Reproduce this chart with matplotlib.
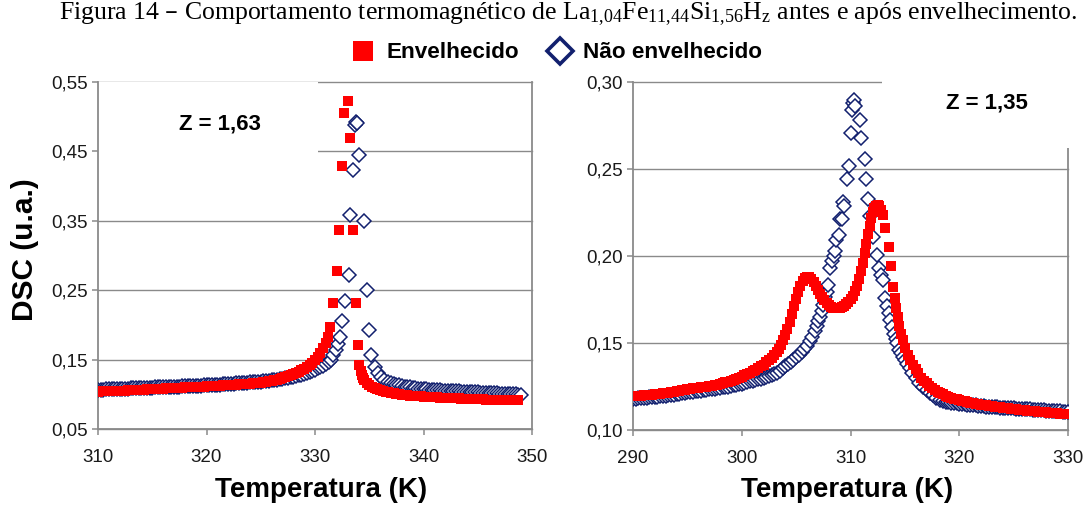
"""DSC curves of La-Fe-Si-H before and after ageing (two panels)."""

import matplotlib

matplotlib.use("Agg")
import matplotlib.pyplot as plt
from matplotlib.lines import Line2D
from matplotlib.patches import Rectangle

plt.rcParams["font.family"] = ["Liberation Sans", "DejaVu Sans"]

# ---- left panel, z = 1.63: (temperature K, DSC a.u.) -----------------------
left_aged = [
    (310.00, .1040), (310.25, .1041), (310.50, .1043), (310.75, .1044), (311.00, .1045),
    (311.25, .1046), (311.50, .1048), (311.75, .1049), (312.00, .1050), (312.25, .1052),
    (312.50, .1054), (312.75, .1056), (313.00, .1058), (313.25, .1060), (313.50, .1062),
    (313.75, .1064), (314.00, .1066), (314.25, .1068), (314.50, .1070), (314.75, .1072),
    (315.00, .1074), (315.25, .1076), (315.50, .1078), (315.75, .1080), (316.00, .1082),
    (316.25, .1084), (316.50, .1086), (316.75, .1088), (317.00, .1090), (317.25, .1092),
    (317.50, .1094), (317.75, .1096), (318.00, .1098), (318.25, .1100), (318.50, .1102),
    (318.75, .1104), (319.00, .1106), (319.25, .1108), (319.50, .1110), (319.75, .1112),
    (320.00, .1114), (320.25, .1116), (320.50, .1118), (320.75, .1120), (321.00, .1122),
    (321.25, .1125), (321.50, .1127), (321.75, .1130), (322.00, .1132), (322.25, .1135),
    (322.50, .1137), (322.75, .1140), (323.00, .1142), (323.25, .1145), (323.50, .1148),
    (323.75, .1151), (324.00, .1155), (324.25, .1158), (324.50, .1162), (324.75, .1166),
    (325.00, .1170), (325.25, .1175), (325.50, .1181), (325.75, .1187), (326.00, .1194),
    (326.25, .1202), (326.50, .1211), (326.75, .1221), (327.00, .1232), (327.25, .1244),
    (327.50, .1257), (327.75, .1271), (328.00, .1287), (328.25, .1304), (328.50, .1323),
    (328.75, .1344), (329.00, .1367), (329.25, .1392), (329.50, .1420), (329.75, .1450),
    (330.00, .1490), (330.25, .1535), (330.50, .1590), (330.75, .1660), (331.00, .1740),
    (331.20, .1830), (331.40, .1970), (331.70, .2320), (332.00, .2780), (332.20, .3370),
    (332.50, .4290), (332.70, .5050), (333.00, .5220), (333.20, .4700), (333.50, .3370),
    (333.80, .2310), (334.00, .1710), (334.10, .1420), (334.20, .1340), (334.30, .1280),
    (334.40, .1240), (334.50, .1200), (334.75, .1160), (335.00, .1130), (335.25, .1110),
    (335.50, .1090), (335.75, .1075), (336.00, .1062), (336.25, .1050), (336.50, .1040),
    (336.75, .1030), (337.00, .1020), (337.25, .1013), (337.50, .1005), (337.75, .0999),
    (338.00, .0994), (338.25, .0990), (338.50, .0986), (338.75, .0982), (339.00, .0979),
    (339.25, .0976), (339.50, .0973), (339.75, .0970), (340.00, .0967), (340.25, .0965),
    (340.50, .0962), (340.75, .0960), (341.00, .0957), (341.25, .0955), (341.50, .0953),
    (341.75, .0951), (342.00, .0949), (342.25, .0947), (342.50, .0945), (342.75, .0944),
    (343.00, .0942), (343.25, .0940), (343.50, .0939), (343.75, .0937), (344.00, .0936),
    (344.25, .0934), (344.50, .0933), (344.75, .0931), (345.00, .0930), (345.25, .0928),
    (345.50, .0927), (345.75, .0925), (346.00, .0924), (346.25, .0922), (346.50, .0921),
    (346.75, .0920), (347.00, .0919), (347.25, .0918), (347.50, .0917), (347.75, .0916),
    (348.00, .0915), (348.25, .0914), (348.50, .0913), (348.75, .0912),
]
left_fresh = [
    (310.00, .1065), (310.25, .1067), (310.50, .1068), (310.75, .1070), (311.00, .1071),
    (311.25, .1073), (311.50, .1075), (311.75, .1076), (312.00, .1078), (312.25, .1079),
    (312.50, .1081), (312.75, .1082), (313.00, .1084), (313.25, .1086), (313.50, .1087),
    (313.75, .1089), (314.00, .1090), (314.25, .1092), (314.50, .1093), (314.75, .1095),
    (315.00, .1097), (315.25, .1098), (315.50, .1100), (315.75, .1101), (316.00, .1103),
    (316.25, .1105), (316.50, .1106), (316.75, .1108), (317.00, .1109), (317.25, .1111),
    (317.50, .1112), (317.75, .1114), (318.00, .1116), (318.25, .1117), (318.50, .1119),
    (318.75, .1120), (319.00, .1122), (319.25, .1124), (319.50, .1125), (319.75, .1127),
    (320.00, .1128), (320.25, .1131), (320.50, .1133), (320.75, .1136), (321.00, .1138),
    (321.25, .1141), (321.50, .1143), (321.75, .1146), (322.00, .1148), (322.25, .1151),
    (322.50, .1154), (322.75, .1157), (323.00, .1160), (323.25, .1163), (323.50, .1166),
    (323.75, .1169), (324.00, .1172), (324.25, .1175), (324.50, .1178), (324.75, .1181),
    (325.00, .1184), (325.25, .1188), (325.50, .1192), (325.75, .1197), (326.00, .1202),
    (326.25, .1207), (326.50, .1213), (326.75, .1219), (327.00, .1225), (327.25, .1232),
    (327.50, .1239), (327.75, .1247), (328.00, .1255), (328.25, .1264), (328.50, .1274),
    (328.75, .1285), (329.00, .1297), (329.25, .1310), (329.50, .1324), (329.75, .1339),
    (330.00, .1355), (330.25, .1372), (330.50, .1390), (330.75, .1410), (331.00, .1435),
    (331.25, .1465), (331.50, .1500), (331.70, .1570), (331.90, .1640), (332.10, .1720),
    (332.30, .1820), (332.50, .2050), (332.80, .2350), (333.10, .2720), (333.20, .3590),
    (333.50, .4230), (333.70, .4880), (333.80, .4930), (333.90, .4910), (334.10, .4450),
    (334.50, .3490), (334.80, .2510), (335.00, .1930), (335.20, .1570), (335.50, .1400),
    (335.80, .1310), (336.10, .1250), (336.40, .1210), (336.70, .1180), (337.00, .1165),
    (337.25, .1152), (337.50, .1140), (337.75, .1130), (338.00, .1120), (338.25, .1112),
    (338.50, .1105), (338.75, .1099), (339.00, .1093), (339.25, .1088), (339.50, .1083),
    (339.75, .1079), (340.00, .1075), (340.25, .1071), (340.50, .1068), (340.75, .1065),
    (341.00, .1062), (341.25, .1059), (341.50, .1057), (341.75, .1054), (342.00, .1052),
    (342.25, .1049), (342.50, .1047), (342.75, .1045), (343.00, .1043), (343.25, .1041),
    (343.50, .1039), (343.75, .1037), (344.00, .1035), (344.25, .1033), (344.50, .1031),
    (344.75, .1029), (345.00, .1027), (345.25, .1025), (345.50, .1023), (345.75, .1021),
    (346.00, .1019), (346.25, .1017), (346.50, .1015), (346.75, .1013), (347.00, .1011),
    (347.25, .1009), (347.50, .1007), (347.75, .1005), (348.00, .1003), (348.25, .1001),
    (348.50, .0999), (348.75, .0997), (349.00, .0995),
]

# ---- right panel, z = 1.35 -------------------------------------------------
right_aged = [
    (290.00, .1195), (290.25, .1196), (290.50, .1197), (290.75, .1198), (291.00, .1199),
    (291.25, .1200), (291.50, .1202), (291.75, .1203), (292.00, .1205), (292.25, .1206),
    (292.50, .1208), (292.75, .1210), (293.00, .1212), (293.25, .1214), (293.50, .1216),
    (293.75, .1219), (294.00, .1222), (294.25, .1225), (294.50, .1228), (294.75, .1231),
    (295.00, .1234), (295.25, .1237), (295.50, .1240), (295.75, .1242), (296.00, .1244),
    (296.25, .1246), (296.50, .1248), (296.75, .1250), (297.00, .1253), (297.25, .1255),
    (297.50, .1258), (297.75, .1261), (298.00, .1265), (298.25, .1269), (298.50, .1273),
    (298.75, .1277), (299.00, .1282), (299.25, .1287), (299.50, .1293), (299.75, .1300),
    (300.00, .1307), (300.25, .1314), (300.50, .1321), (300.75, .1329), (301.00, .1337),
    (301.25, .1346), (301.50, .1355), (301.75, .1365), (302.00, .1376), (302.25, .1388),
    (302.50, .1401), (302.75, .1415), (303.00, .1430), (303.20, .1448), (303.40, .1468),
    (303.60, .1490), (303.80, .1515), (304.00, .1545), (304.20, .1580), (304.40, .1620),
    (304.60, .1665), (304.80, .1710), (305.00, .1755), (305.20, .1795), (305.40, .1830),
    (305.60, .1855), (305.80, .1872), (306.00, .1880), (306.20, .1878), (306.40, .1865),
    (306.60, .1848), (306.80, .1828), (307.00, .1805), (307.20, .1783), (307.40, .1763),
    (307.60, .1745), (307.80, .1730), (308.00, .1718), (308.20, .1709), (308.40, .1703),
    (308.60, .1700), (308.80, .1700), (309.00, .1700), (309.20, .1705), (309.40, .1713),
    (309.60, .1723), (309.80, .1736), (310.00, .1752), (310.20, .1772), (310.40, .1797),
    (310.60, .1828), (310.80, .1866), (311.00, .1912), (311.15, .1960), (311.30, .2015),
    (311.45, .2070), (311.60, .2125), (311.75, .2175), (311.90, .2220), (312.05, .2255),
    (312.20, .2278), (312.35, .2290), (312.50, .2292), (312.65, .2285), (312.80, .2265),
    (312.95, .2235), (313.20, .2160), (313.50, .2050), (313.70, .1940), (313.90, .1820),
    (314.05, .1760), (314.20, .1700), (314.35, .1650), (314.50, .1600), (314.65, .1550),
    (314.80, .1515), (315.00, .1470), (315.25, .1433), (315.50, .1400), (315.75, .1373),
    (316.00, .1350), (316.25, .1325), (316.50, .1300), (316.75, .1284), (317.00, .1270),
    (317.25, .1255), (317.50, .1240), (317.75, .1230), (318.00, .1220), (318.25, .1212),
    (318.50, .1205), (318.75, .1198), (319.00, .1192), (319.25, .1186), (319.50, .1181),
    (319.75, .1176), (320.00, .1172), (320.25, .1168), (320.50, .1164), (320.75, .1160),
    (321.00, .1157), (321.25, .1154), (321.50, .1151), (321.75, .1148), (322.00, .1146),
    (322.25, .1143), (322.50, .1141), (322.75, .1139), (323.00, .1137), (323.25, .1135),
    (323.50, .1133), (323.75, .1131), (324.00, .1129), (324.25, .1127), (324.50, .1125),
    (324.75, .1123), (325.00, .1121), (325.25, .1119), (325.50, .1117), (325.75, .1115),
    (326.00, .1113), (326.25, .1111), (326.50, .1110), (326.75, .1108), (327.00, .1107),
    (327.25, .1105), (327.50, .1104), (327.75, .1102), (328.00, .1101), (328.25, .1099),
    (328.50, .1098), (328.75, .1096), (329.00, .1095), (329.25, .1093), (329.50, .1092),
    (329.75, .1091), (330.00, .1090),
]
right_fresh = [
    (290.00, .1180), (290.25, .1181), (290.50, .1182), (290.75, .1183), (291.00, .1184),
    (291.25, .1186), (291.50, .1187), (291.75, .1189), (292.00, .1190), (292.25, .1192),
    (292.50, .1193), (292.75, .1195), (293.00, .1197), (293.25, .1199), (293.50, .1201),
    (293.75, .1204), (294.00, .1206), (294.25, .1209), (294.50, .1211), (294.75, .1214),
    (295.00, .1216), (295.25, .1219), (295.50, .1221), (295.75, .1223), (296.00, .1225),
    (296.25, .1227), (296.50, .1229), (296.75, .1231), (297.00, .1233), (297.25, .1235),
    (297.50, .1237), (297.75, .1240), (298.00, .1242), (298.25, .1245), (298.50, .1247),
    (298.75, .1250), (299.00, .1253), (299.25, .1256), (299.50, .1260), (299.75, .1263),
    (300.00, .1267), (300.25, .1271), (300.50, .1275), (300.75, .1279), (301.00, .1283),
    (301.25, .1287), (301.50, .1291), (301.75, .1295), (302.00, .1300), (302.25, .1305),
    (302.50, .1310), (302.75, .1316), (303.00, .1322), (303.25, .1330), (303.50, .1340),
    (303.75, .1355), (304.00, .1370), (304.25, .1380), (304.50, .1392), (304.75, .1405),
    (305.00, .1418), (305.25, .1432), (305.50, .1448), (305.75, .1465), (306.00, .1485),
    (306.25, .1510), (306.50, .1535), (306.70, .1570), (306.90, .1595), (307.05, .1625),
    (307.20, .1650), (307.35, .1685), (307.50, .1720), (307.65, .1765), (307.80, .1795),
    (307.95, .1835), (308.10, .1930), (308.30, .1970), (308.45, .2000), (308.60, .2030),
    (308.70, .2090), (308.90, .2120), (309.00, .2210), (309.20, .2210), (309.30, .2310),
    (309.40, .2290), (309.65, .2440), (309.90, .2520), (310.00, .2705), (310.10, .2840),
    (310.20, .2880), (310.30, .2895), (310.40, .2860), (310.90, .2780), (311.00, .2680),
    (311.30, .2560), (311.40, .2440), (311.60, .2330), (311.80, .2230), (312.10, .2110),
    (312.40, .2005), (312.60, .1930), (312.80, .1890), (313.00, .1860), (313.20, .1760),
    (313.35, .1710), (313.50, .1670), (313.65, .1630), (313.80, .1590), (314.00, .1550),
    (314.15, .1525), (314.30, .1500), (314.50, .1460), (314.65, .1440), (314.80, .1420),
    (315.00, .1400), (315.20, .1380), (315.45, .1355), (315.70, .1330), (316.00, .1300),
    (316.30, .1270), (316.65, .1250), (317.00, .1230), (317.30, .1215), (317.60, .1200),
    (317.90, .1185), (318.20, .1170), (318.50, .1166), (318.75, .1163), (319.00, .1160),
    (319.25, .1158), (319.50, .1156), (319.75, .1154), (320.00, .1152), (320.25, .1150),
    (320.50, .1148), (320.75, .1146), (321.00, .1144), (321.25, .1143), (321.50, .1141),
    (321.75, .1140), (322.00, .1138), (322.25, .1137), (322.50, .1135), (322.75, .1134),
    (323.00, .1132), (323.25, .1131), (323.50, .1130), (323.75, .1129), (324.00, .1128),
    (324.25, .1127), (324.50, .1126), (324.75, .1125), (325.00, .1124), (325.25, .1123),
    (325.50, .1122), (325.75, .1121), (326.00, .1120), (326.25, .1119), (326.50, .1118),
    (326.75, .1117), (327.00, .1116), (327.25, .1115), (327.50, .1114), (327.75, .1113),
    (328.00, .1112), (328.25, .1111), (328.50, .1110), (328.75, .1109), (329.00, .1108),
    (329.25, .1107), (329.50, .1106), (329.75, .1105), (330.00, .1104),
]

left_yticks = [0.05, 0.15, 0.25, 0.35, 0.45, 0.55]
right_yticks = [0.10, 0.15, 0.20, 0.25, 0.30]
series_labels = ["Envelhecido", "Não envelhecido"]

RED = "#ff0000"
NAVY = "#12206e"
GREY = "#8a8a8a"

W, H = 1086, 508
fig = plt.figure(figsize=(W / 100, H / 100), dpi=100)


def px_box(x0, y0, x1, y1):
    return [x0 / W, 1 - y1 / H, (x1 - x0) / W, (y1 - y0) / H]


def style_axes(ax, xlim, yticks):
    ax.set_xlim(*xlim)
    ax.set_ylim(yticks[0], yticks[-1])
    ax.set_xticks(range(xlim[0], xlim[1] + 1, 10))
    ax.set_yticks(yticks)
    ax.set_yticklabels([f"{v:.2f}".replace(".", ",") for v in yticks])
    ax.set_axisbelow(True)
    ax.grid(axis="y", color=GREY, lw=1.0)
    for gl in ax.get_ygridlines():
        gl.set_clip_on(False)
    for sp in ax.spines.values():
        sp.set_color(GREY)
        sp.set_linewidth(1.3)
    ax.spines["top"].set_visible(False)
    ax.tick_params(direction="out", length=4, width=1.1, color=GREY,
                   labelsize=13.5, labelcolor="#1a1a1a")
    ax.tick_params(axis="x", pad=10.5)
    ax.tick_params(axis="y", pad=3.5)


def draw_series(ax, aged, fresh, sq, dm):
    t_f, d_f = zip(*fresh)
    t_a, d_a = zip(*aged)
    ax.plot(t_f, d_f, ls="none", marker="D", ms=dm, mfc="white",
            mec=NAVY, mew=1.1, zorder=3)
    ax.plot(t_a, d_a, ls="none", marker="s", ms=sq, mfc=RED,
            mec=RED, mew=0, zorder=4)


ax1 = fig.add_axes(px_box(98, 82, 532, 429))
style_axes(ax1, (310, 350), left_yticks)
draw_series(ax1, left_aged, left_fresh, 7.6, 6.8)
# white label box over the upper-left grid
ax1.add_patch(Rectangle((310, 0.447), 20.3, 0.12, facecolor="white",
                        edgecolor="none", zorder=1.5))
ax1.text(321.2, 0.49, "Z = 1,63", ha="center", va="center",
         fontsize=16, fontweight="bold", zorder=5)

ax2 = fig.add_axes(px_box(633, 82, 1068, 430))
style_axes(ax2, (290, 330), right_yticks)
draw_series(ax2, right_aged, right_fresh, 7.4, 6.8)
ax2.add_patch(Rectangle((312.9, 0.262), 20, 0.06, facecolor="white",
                        edgecolor="none", zorder=2.6, clip_on=False))
ax2.text(322.55, 0.288, "Z = 1,35", ha="center", va="center",
         fontsize=16, fontweight="bold", zorder=5)

# axis titles
fig.text(321 / W, 1 - 490 / H, "Temperatura (K)", ha="center", va="center",
         fontsize=20, fontweight="bold")
fig.text(847.5 / W, 1 - 490 / H, "Temperatura (K)", ha="center", va="center",
         fontsize=20, fontweight="bold")
fig.text(25 / W, 1 - 250 / H, "DSC (u.a.)", ha="center", va="center",
         rotation=90, fontsize=21.5, fontweight="bold")

# legend
handles = [
    Line2D([], [], ls="none", marker="s", ms=14.4, mfc=RED, mec=RED, mew=0),
    Line2D([], [], ls="none", marker="D", ms=13.5, mfc="white", mec=NAVY, mew=2.6),
]
fig.legend(handles, series_labels, ncol=2, loc="center",
           bbox_to_anchor=(557 / W, 1 - 53 / H), frameon=False,
           prop={"weight": "bold", "size": 16.2}, handlelength=1.0,
           handletextpad=0.55, columnspacing=1.3, borderpad=0)

title = ("Figura 14 – Comportamento termomagnético de "
         r"La$\mathregular{_{1{,}04}}$Fe$\mathregular{_{11{,}44}}$"
         r"Si$\mathregular{_{1{,}56}}$H$\mathregular{_z}$"
         " antes e após envelhecimento.")
fig.text(568 / W, 1 - 14 / H, title, ha="center", va="center",
         fontsize=18.5, family="Liberation Serif")

fig.savefig("out.png", dpi=100)
plt.close(fig)
